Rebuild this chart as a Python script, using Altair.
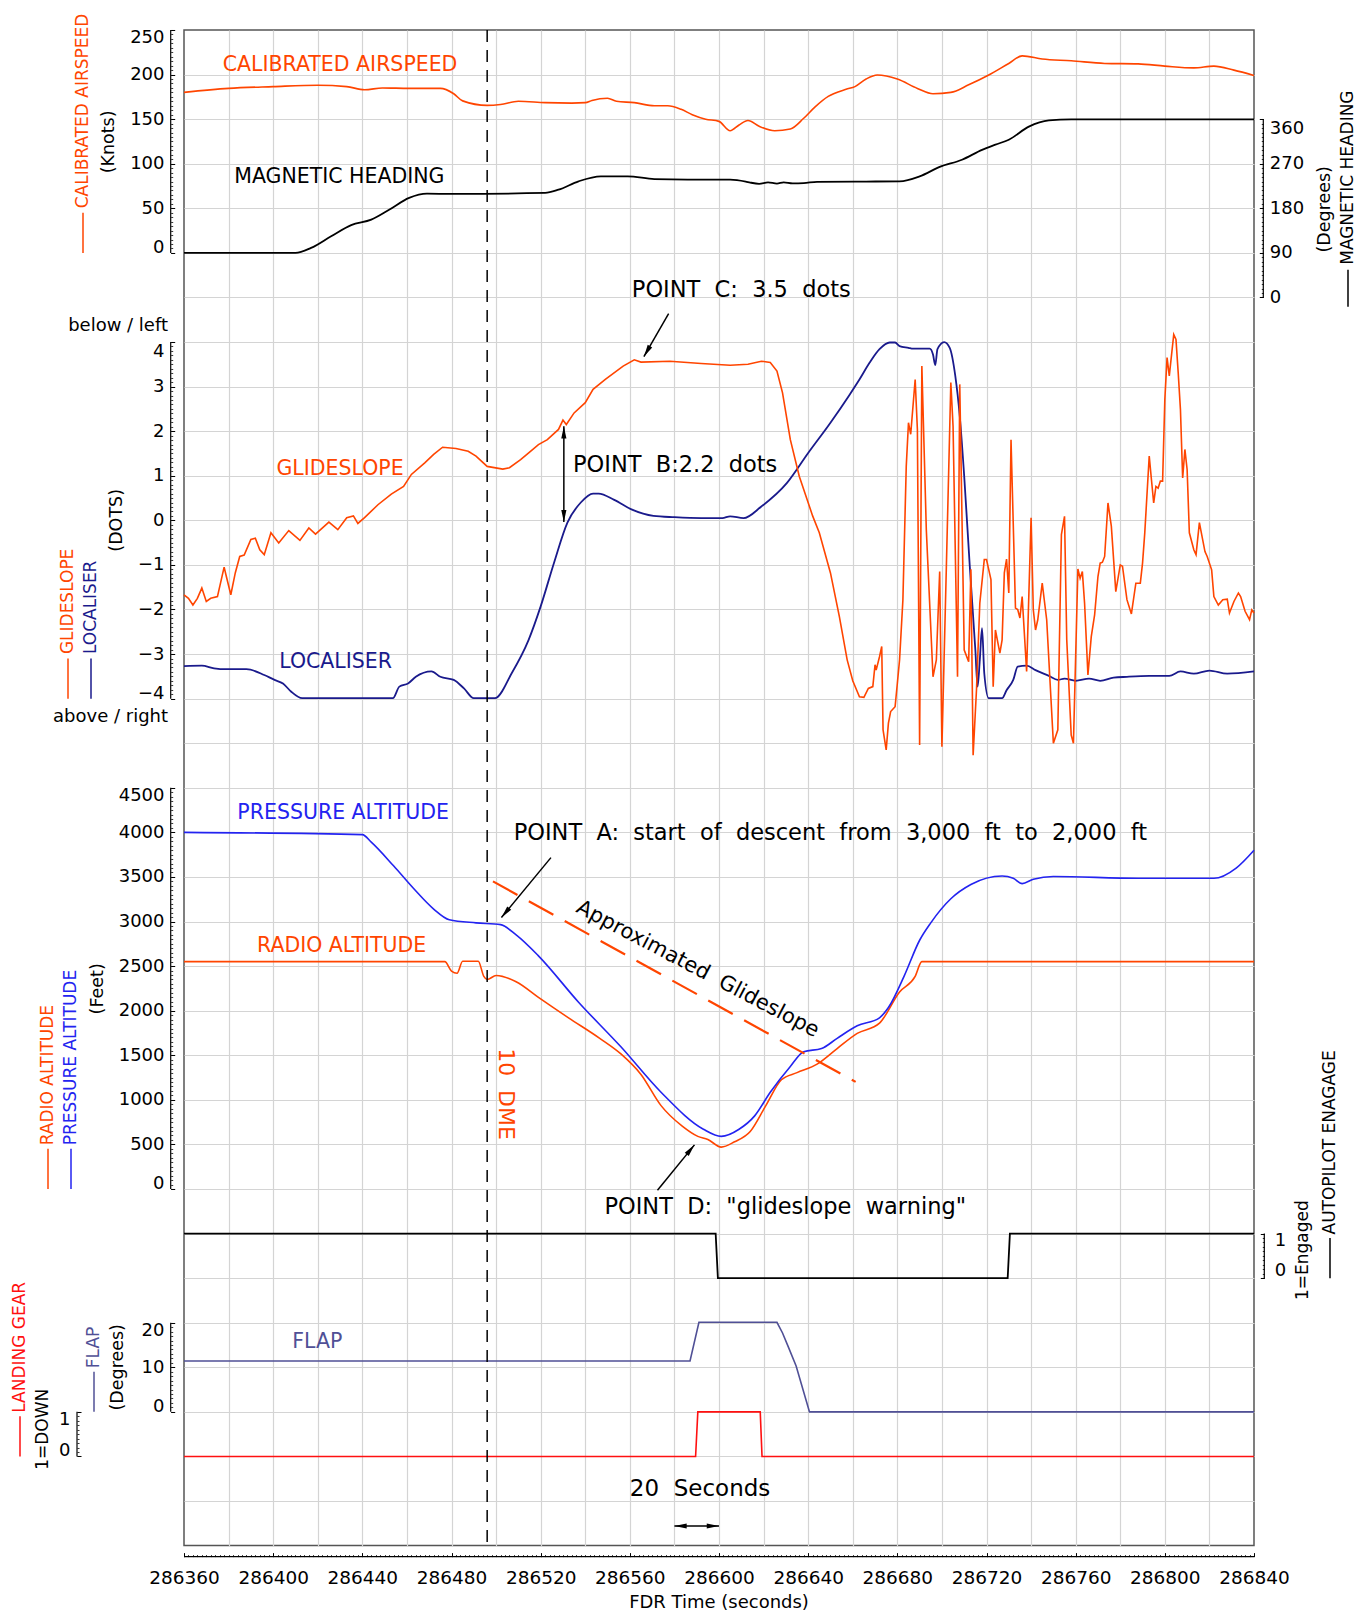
import altair as alt
import pandas as pd

W = 1070
H = 1515.6
XDOM = [286360, 286840]
FONT = "DejaVu Sans"

ORANGE = "#FF4500"
NAVY = "#1A1A8C"
BLUE = "#2323F0"
SLATE = "#505096"
RED = "#FF1010"
BLACK = "#000000"

# ---------------- data ----------------
as_t = [286360, 286380, 286400, 286420, 286433, 286441, 286449, 286461, 286475, 286481, 286485, 286496,
        286502, 286510, 286522, 286534, 286540, 286543, 286550, 286554, 286562, 286571, 286577, 286583,
        286588, 286594, 286600, 286605, 286609, 286613, 286618, 286625, 286632, 286638, 286643, 286649,
        286657, 286661, 286666, 286671, 286680, 286689, 286696, 286704, 286712, 286721, 286730, 286736,
        286745, 286758, 286773, 286788, 286800, 286813, 286822, 286831, 286840]
as_v = [180, 184.5, 186.5, 188, 186.5, 183, 185, 184.5, 184.5, 178.5, 170.5, 165.5,
        166.5, 170, 168.5, 168, 168.5, 171, 173.5, 170, 168.5, 165, 165, 161,
        155, 150, 147.5, 137, 143.5, 148.5, 142, 137, 139, 151, 163.5, 175.5,
        183.5, 186.5, 195, 199.5, 195, 184.5, 178.5, 180, 188.5, 199.5, 212.5, 221,
        217.5, 215.5, 212.5, 212, 209.5, 207.5, 209.5, 205, 199]

hd_t = [286360, 286410, 286417, 286426, 286435, 286444, 286452, 286461, 286469, 286482, 286522, 286528,
        286537, 286547, 286559, 286571, 286586, 286605, 286612, 286614, 286618, 286622, 286626, 286629,
        286633, 286638, 286644, 286666, 286681, 286690, 286699, 286709, 286718, 286724, 286730, 286739,
        286748, 286758, 286840]
hd_v = [90, 90, 100, 123.5, 146, 157, 177, 201, 209.5, 209, 211, 217.5,
        234.5, 244.5, 244.5, 239, 238, 238, 234, 232, 229.5, 232.5, 230, 232.5,
        230.5, 231, 233.5, 234, 234.5, 244.5, 263.5, 278, 298, 308.5, 318.5, 345,
        357.5, 359.5, 359.5]

gs_t = [286360, 286362, 286364, 286366, 286368, 286370, 286372, 286375, 286378, 286379, 286381, 286383,
        286385, 286387, 286390, 286392, 286394, 286396, 286399, 286402.5, 286407, 286412, 286416, 286419,
        286425, 286429, 286433, 286436, 286438, 286441, 286447, 286453, 286458.5, 286462, 286468, 286472,
        286476, 286482, 286487.5, 286491, 286496, 286503, 286506, 286511, 286514.5, 286519, 286523, 286528,
        286530, 286531.5, 286535, 286540, 286543.5, 286549, 286557, 286562, 286565, 286578, 286592, 286605,
        286613, 286619, 286623, 286626, 286628.5, 286632, 286636, 286642, 286645, 286650, 286654, 286657.5,
        286660, 286663, 286665, 286667, 286669, 286670, 286670.5, 286672, 286673, 286673.6, 286675, 286676,
        286677, 286679, 286680, 286681, 286682.5, 286684, 286685, 286686, 286688, 286689, 286690, 286691,
        286693, 286696, 286697.5, 286699, 286700, 286702, 286704, 286705, 286707, 286708, 286710, 286712,
        286713, 286714, 286715.5, 286717, 286719, 286720, 286722, 286723, 286724, 286726, 286727, 286728,
        286729, 286730, 286731, 286733, 286734, 286735, 286736, 286738, 286740, 286741, 286742, 286743,
        286745, 286747, 286750, 286752, 286753.6, 286755, 286756, 286758, 286759, 286761, 286762, 286763,
        286764, 286765.5, 286767, 286768.5, 286770, 286771, 286772, 286773, 286774.5, 286776, 286778, 286780,
        286781, 286783, 286785, 286787, 286789, 286790, 286791, 286793, 286794, 286795, 286796, 286797,
        286798, 286799, 286800, 286801, 286802, 286804, 286805, 286806, 286807, 286808, 286809, 286810,
        286811, 286813, 286814, 286815.5, 286818, 286819, 286821, 286822, 286824, 286826, 286828, 286829,
        286831, 286833, 286834, 286836, 286838, 286839, 286840]
gs_v = [-1.67, -1.75, -1.9, -1.75, -1.52, -1.82, -1.75, -1.71, -1.05, -1.26, -1.67, -1.18,
        -0.81, -0.78, -0.43, -0.4, -0.66, -0.77, -0.28, -0.51, -0.23, -0.45, -0.17, -0.31,
        -0.04, -0.21, 0.06, 0.1, -0.07, 0.06, 0.35, 0.59, 0.76, 1.03, 1.29, 1.48,
        1.64, 1.61, 1.55, 1.44, 1.21, 1.15, 1.18, 1.36, 1.51, 1.7, 1.81, 2.04,
        2.25, 2.15, 2.41, 2.64, 2.94, 3.16, 3.46, 3.6, 3.55, 3.57, 3.52, 3.48,
        3.5, 3.57, 3.54, 3.35, 2.86, 1.81, 0.99, 0.1, -0.28, -1.18, -2.16, -3.13,
        -3.6, -3.96, -3.97, -3.77, -3.73, -3.24, -3.36, -3.06, -2.83, -4.7, -5.15, -4.55,
        -4.29, -4.18, -3.66, -3.13, -1.78, 1.21, 2.19, 1.93, 3.16, 2.04, -5.04, 3.46,
        -0.21, -3.51, -3.13, -1.15, -5.08, -1.03, 3.09, 2.11, -3.51, 3.05, -2.91, -3.17,
        -1.1, -5.27, -3.81, -1.86, -0.88, -0.88, -1.33, -3.73, -2.46, -2.98, -2.68, -1.18,
        -0.87, -1.63, 1.81, -1.97, -2.0, -2.19, -1.71, -3.39, 0.06, -2.01, -2.46, -2.23,
        -1.41, -2.23, -5.0, -4.7, -0.32, 0.09, -2.68, -4.82, -5.0, -1.09, -1.3, -1.15,
        -1.86, -3.47, -2.61, -2.12, -1.26, -0.96, -0.94, -0.81, 0.39, -0.13, -1.6, -1.0,
        -1.03, -1.78, -2.1, -1.41, -1.41, -0.96, -0.28, 1.44, 0.91, 0.39, 0.76, 0.72,
        0.88, 0.88, 2.71, 3.65, 3.24, 4.17, 4.06, 3.31, 2.49, 0.95, 1.59, 1.14,
        -0.28, -0.66, -0.77, -0.05, -0.7, -0.81, -1.11, -1.71, -1.9, -1.78, -1.77, -2.08,
        -1.82, -1.63, -1.71, -2.04, -2.23, -2.01, -2.08]

loc_t = [286360, 286368, 286373.5, 286379, 286388, 286396, 286400.6, 286404.4, 286408, 286413, 286453.7,
         286456.6, 286460.5, 286464, 286471, 286475, 286481, 286485.6, 286490, 286499.5, 286507, 286514.6,
         286520, 286526, 286532, 286538, 286543.5, 286546, 286553, 286561, 286570.6, 286580, 286592,
         286601.5, 286605, 286611, 286619, 286630.5, 286640, 286650, 286658.6, 286663, 286667.6, 286672,
         286676.6, 286679, 286681, 286685, 286687, 286694.5, 286696, 286697, 286698, 286701, 286703.5,
         286706, 286708, 286710, 286712.5, 286715, 286716, 286717, 286718, 286719, 286721, 286727,
         286729, 286732, 286734, 286738, 286742, 286748, 286752, 286755, 286760, 286766, 286771,
         286777, 286783, 286793, 286802, 286807, 286813, 286820, 286828, 286840]
loc_v = [-3.27, -3.26, -3.32, -3.34, -3.34, -3.47, -3.58, -3.66, -3.84, -3.99, -3.99,
         -3.73, -3.66, -3.51, -3.39, -3.51, -3.58, -3.77, -3.99, -3.99, -3.43, -2.68,
         -1.93, -0.95, -0.05, 0.4, 0.6, 0.6, 0.46, 0.24, 0.1, 0.07, 0.05,
         0.05, 0.09, 0.05, 0.31, 0.84, 1.51, 2.19, 2.82, 3.16, 3.54, 3.84,
         3.99, 3.99, 3.91, 3.87, 3.85, 3.85, 3.72, 3.48, 3.84, 4.0, 3.87,
         3.24, 2.34, 0.99, -1.03, -2.91, -3.73, -3.13, -2.42, -3.43, -3.99, -3.99,
         -3.81, -3.58, -3.28, -3.26, -3.36, -3.49, -3.58, -3.55, -3.6, -3.55, -3.6,
         -3.53, -3.51, -3.49, -3.49, -3.39, -3.44, -3.37, -3.44, -3.39]

pa_t = [286360, 286440, 286444, 286454, 286463, 286472, 286479, 286491, 286502, 286509, 286519, 286537,
        286556, 286574, 286593, 286601, 286609, 286616, 286623, 286632, 286638, 286646, 286653, 286662,
        286672, 286676, 286683, 286690, 286695, 286704, 286713, 286727, 286732, 286736, 286741, 286750,
        286788, 286822, 286832, 286840]
pa_v = [4000, 3975, 3890, 3625, 3370, 3140, 3020, 2985, 2965, 2850, 2615, 2095,
        1595, 1085, 670, 590, 670, 820, 1085, 1375, 1540, 1575, 1690, 1830,
        1920, 2035, 2385, 2790, 2985, 3255, 3415, 3510, 3485, 3425, 3475, 3505,
        3485, 3485, 3600, 3800]

ra_t = [286360, 286477, 286480, 286482.5, 286485, 286492, 286494.5, 286496, 286500, 286509, 286519,
        286532.5, 286546.5, 286556, 286565, 286574, 286583.5, 286590.5, 286595, 286601, 286607, 286614,
        286621, 286628, 286635, 286644, 286653, 286662, 286672, 286681, 286688, 286691, 286840]
ra_v = [2550, 2550, 2445, 2420, 2555, 2555, 2385, 2350, 2395, 2325, 2150,
        1920, 1690, 1515, 1285, 935, 705, 590, 555, 470, 530, 645,
        935, 1225, 1305, 1400, 1575, 1745, 1860, 2210, 2385, 2550, 2550]

ap_t = [286360, 286598.5, 286599.5, 286729.5, 286730.5, 286840]
ap_v = [1, 1, 0, 0, 1, 1]

fl_t = [286360, 286587, 286591, 286626, 286628.5, 286631, 286634.6, 286640.6, 286840]
fl_v = [11.4, 11.4, 20.1, 20.1, 17.7, 14.7, 10.3, 0, 0]

lg_t = [286360, 286589.5, 286590.5, 286618.5, 286619.3, 286840]
lg_v = [0, 0, 1, 1, 0, 0]

approx_gs_t = [286498.6, 286661.3]
approx_gs_v = [3450, 1201]
dme_t = 286496

x_labels = list(range(286360, 286841, 40))
x_grid = list(range(286380, 286821, 20))
x_minor = list(range(286360, 286841, 2))

# panel domains (each panel's scale spans the whole plot height)
D_AS = [-1450, 250]
D_HD = [-2520, 540]
D_DOT = [-23, 11]
D_ALT = [-4000, 13000]
D_AP = [-6, 28]
D_FL = [-30, 310]
D_LG = [-2, 32]
D_GRID = [0, 34]


def xs():
    return alt.Scale(domain=XDOM, nice=False, zero=False)


def ys(d):
    return alt.Scale(domain=d, nice=False, zero=False)


def series(t, v, dom, color, width=1.6, interp="linear"):
    df = pd.DataFrame({"t": t, "v": v})
    return alt.Chart(df).mark_line(color=color, strokeWidth=width, interpolate=interp).encode(
        x=alt.X("t:Q", scale=xs(), axis=None),
        y=alt.Y("v:Q", scale=ys(dom), axis=None),
    )


def txt(label, dom, v, t=None, px=None, color=BLACK, size=20.5, angle=0, align="center", baseline="middle"):
    d = {"v": [v], "label": [label]}
    enc = {"y": alt.Y("v:Q", scale=ys(dom), axis=None), "text": alt.Text("label:N")}
    if t is not None:
        d["t"] = [t]
        enc["x"] = alt.X("t:Q", scale=xs(), axis=None)
    else:
        enc["x"] = alt.value(px)
    mk = dict(font=FONT, fontSize=size, color=color, align=align, baseline=baseline)
    if angle:
        mk["angle"] = angle
    return alt.Chart(pd.DataFrame(d)).mark_text(**mk).encode(**enc)


def seg(dom, t0, v0, t1, v1, color=BLACK, width=1.5, dash=None):
    df = pd.DataFrame({"t0": [t0], "t1": [t1], "v0": [v0], "v1": [v1]})
    mk = dict(color=color, strokeWidth=width)
    if dash:
        mk["strokeDash"] = dash
    return alt.Chart(df).mark_rule(**mk).encode(
        x=alt.X("t0:Q", scale=xs(), axis=None), x2="t1:Q",
        y=alt.Y("v0:Q", scale=ys(dom), axis=None), y2="v1:Q",
    )


def head(dom, t, v, angle):
    df = pd.DataFrame({"t": [t], "v": [v]})
    return alt.Chart(df).mark_point(shape="M0,0L0.42,2L-0.42,2Z", filled=True, size=150,
                                    angle=angle, color=BLACK, opacity=1).encode(
        x=alt.X("t:Q", scale=xs(), axis=None),
        y=alt.Y("v:Q", scale=ys(dom), axis=None),
    )


def vline(dom, v0, v1, px, color=BLACK, width=1.2):
    df = pd.DataFrame({"a": [v0], "b": [v1]})
    return alt.Chart(df).mark_rule(color=color, strokeWidth=width).encode(
        x=alt.value(px), y=alt.Y("a:Q", scale=ys(dom), axis=None), y2="b:Q")


def yaxis(dom, values, orient, line_pos, pad, top=None, bottom=None, top_off=8, bot_off=-5.5):
    """major axis (labels + long ticks); ticks end on the drawn axis line."""
    conds = []
    if top is not None:
        conds.append({"test": f"datum.value == {top}", "value": top_off})
    if bottom is not None:
        conds.append({"test": f"datum.value == {bottom}", "value": bot_off})
    major = dict(values=values, orient=orient, offset=line_pos - 4, tickSize=4, domain=False, grid=False,
                 title=None, format="d", labelPadding=pad, labelFont=FONT, labelFontSize=18,
                 labelColor=BLACK, tickColor=BLACK, tickWidth=1, labelOverlap=False)
    if conds:
        major["labelOffset"] = {"condition": conds, "value": 0}
    df = pd.DataFrame({"v": [dom[0]]})
    return [alt.Chart(df).mark_rule(opacity=0).encode(
        y=alt.Y("v:Q", scale=ys(dom), axis=alt.Axis(**major)))]


def yminor(dom, values, orient, line_pos):
    minor = dict(values=values, orient=orient, offset=line_pos - 2, tickSize=2, domain=False, grid=False,
                 title=None, labels=False, tickColor=BLACK, tickWidth=0.8)
    df = pd.DataFrame({"v": [dom[0]]})
    return alt.Chart(df).mark_rule(opacity=0).encode(
        y=alt.Y("v:Q", scale=ys(dom), axis=alt.Axis(**minor)))


def sp2(s):
    return s.replace(" ", "\u00a0\u00a0")


L = []

# grid
L.append(alt.Chart(pd.DataFrame({"t": [XDOM[0]]})).mark_rule(opacity=0).encode(
    x=alt.X("t:Q", scale=xs(), axis=alt.Axis(values=x_grid, orient="bottom", grid=True, gridColor="#d4d4d4",
                                             gridWidth=1.2, labels=False, ticks=False, domain=False, title=None))))
L.append(alt.Chart(pd.DataFrame({"v": [0]})).mark_rule(opacity=0).encode(
    y=alt.Y("v:Q", scale=ys(D_GRID), axis=alt.Axis(values=list(range(1, 34)), orient="left", grid=True,
                                                   gridColor="#d4d4d4", gridWidth=1.2, labels=False, ticks=False,
                                                   domain=False, title=None))))

# x axis
L.append(alt.Chart(pd.DataFrame({"t": [XDOM[0]]})).mark_rule(opacity=0).encode(
    x=alt.X("t:Q", scale=xs(), axis=alt.Axis(values=x_labels, orient="bottom", offset=7, tickSize=4,
                                             labelPadding=12, domain=False, grid=False, title=None, format="d",
                                             labelFlush=False, labelOverlap=False, labelFont=FONT,
                                             labelFontSize=18.5, labelColor=BLACK, tickColor=BLACK))))
L.append(alt.Chart(pd.DataFrame({"t": [XDOM[0]]})).mark_rule(opacity=0).encode(
    x=alt.X("t:Q", scale=xs(), axis=alt.Axis(values=x_minor, orient="bottom", offset=9, tickSize=2,
                                             labels=False, domain=False, grid=False, title=None,
                                             tickColor=BLACK, tickWidth=0.8))))
L.append(alt.Chart(pd.DataFrame({"a": [0]})).mark_rule(color=BLACK, strokeWidth=1.2).encode(
    x=alt.value(0), x2=alt.value(W), y=alt.value(H + 11)))
L.append(alt.Chart(pd.DataFrame({"label": ["FDR Time (seconds)"]})).mark_text(
    font=FONT, fontSize=18, color=BLACK).encode(x=alt.value(W / 2), y=alt.value(H + 57), text="label:N"))

# ---- series ----
L.append(series(as_t, as_v, D_AS, ORANGE, 1.6, "monotone"))
L.append(series(hd_t, hd_v, D_HD, BLACK, 1.8, "monotone"))
L.append(series(loc_t, loc_v, D_DOT, NAVY, 1.8, "monotone"))
L.append(series(gs_t, gs_v, D_DOT, ORANGE, 1.6))
L.append(series(ra_t, ra_v, D_ALT, ORANGE, 1.6, "monotone"))
L.append(series(pa_t, pa_v, D_ALT, BLUE, 1.6, "monotone"))
L.append(series(ap_t, ap_v, D_AP, BLACK, 1.8))
L.append(series(fl_t, fl_v, D_FL, SLATE, 1.6))
L.append(series(lg_t, lg_v, D_LG, RED, 1.6))

# dashed markers
L.append(alt.Chart(pd.DataFrame({"t": [dme_t]})).mark_rule(color=BLACK, strokeWidth=1.5, strokeDash=[12, 8]).encode(
    x=alt.X("t:Q", scale=xs(), axis=None), y=alt.value(0), y2=alt.value(H)))
L.append(seg(D_ALT, approx_gs_t[0], approx_gs_v[0], approx_gs_t[1], approx_gs_v[1], ORANGE, 2.2, [28, 13]))

# ---- axes ----
LEFT = -13.3
L += yaxis(D_AS, [0, 50, 100, 150, 200, 250], "left", 13.3, 6.7, top=250, bottom=0)
L.append(yminor(D_AS, list(range(0, 251, 5)), "left", 13.3))
L.append(vline(D_AS, 0, 250, LEFT))

L += yaxis(D_HD, [0, 90, 180, 270, 360], "right", 9.3, 6, top=360, top_off=9)
L.append(yminor(D_HD, list(range(0, 361, 9)), "right", 9.3))
L.append(vline(D_HD, 0, 360, W + 9.3))

L += yaxis(D_DOT, [-4, -3, -2, -1, 0, 1, 2, 3, 4], "left", 13.3, 6.7, top=4, bottom=-4, top_off=9)
L.append(yminor(D_DOT, [i / 10 for i in range(-40, 41)], "left", 13.3))
L.append(vline(D_DOT, -4, 4, LEFT))

L += yaxis(D_ALT, list(range(0, 4501, 500)), "left", 13.3, 6.7, top=4500, bottom=0)
L.append(yminor(D_ALT, list(range(0, 4501, 50)), "left", 13.3))
L.append(vline(D_ALT, 0, 4500, LEFT))

L += yaxis(D_AP, [0, 1], "right", 10.3, 10, top=1, bottom=0, top_off=6.5, bot_off=-8)
L.append(yminor(D_AP, [i / 10 for i in range(0, 11)], "right", 10.3))
L.append(vline(D_AP, 0, 1, W + 10.3))

L += yaxis(D_FL, [0, 10, 20], "left", 13.3, 6.7, top=20, bottom=0)
L.append(yminor(D_FL, list(range(0, 21)), "left", 13.3))
L.append(vline(D_FL, 0, 20, LEFT))

L += yaxis(D_LG, [0, 1], "left", 107, 7, top=1, bottom=0)
L.append(yminor(D_LG, [i / 10 for i in range(0, 11)], "left", 107))
L.append(vline(D_LG, 0, 1, -107))

# ---- side titles ----
SIDE = 17
L.append(vline(D_AS, 0, 45, -101, ORANGE, 1.5))
L.append(txt("CALIBRATED AIRSPEED", D_AS, 50, px=-101, color=ORANGE, size=SIDE, angle=270, align="left"))
L.append(txt("(Knots)", D_AS, 124.5, px=-75, size=SIDE + 0.5, angle=270))

L.append(vline(D_HD, -19, 56, W + 94, BLACK, 1.5))
L.append(txt("MAGNETIC HEADING", D_HD, 66, px=W + 94, size=SIDE, angle=270, align="left"))
L.append(txt("(Degrees)", D_HD, 178, px=W + 71, size=SIDE + 0.5, angle=270))

L.append(vline(D_DOT, -4, -3.1, -116, ORANGE, 1.5))
L.append(txt("GLIDESLOPE", D_DOT, -3.0, px=-116, color=ORANGE, size=SIDE, angle=270, align="left"))
L.append(vline(D_DOT, -4, -3.1, -93, NAVY, 1.5))
L.append(txt("LOCALISER", D_DOT, -3.0, px=-93, color=NAVY, size=SIDE, angle=270, align="left"))
L.append(txt("(DOTS)", D_DOT, 0, px=-67, size=SIDE + 0.5, angle=270))
L.append(txt("below / left", D_DOT, 4.36, px=-16, size=18, align="right"))
L.append(txt("above / right", D_DOT, -4.41, px=-16, size=18, align="right"))

L.append(vline(D_ALT, 0, 450, -136, ORANGE, 1.5))
L.append(txt("RADIO ALTITUDE", D_ALT, 490, px=-136, color=ORANGE, size=SIDE, angle=270, align="left"))
L.append(vline(D_ALT, 0, 450, -113, BLUE, 1.5))
L.append(txt("PRESSURE ALTITUDE", D_ALT, 490, px=-113, color=BLUE, size=SIDE, angle=270, align="left"))
L.append(txt("(Feet)", D_ALT, 2245, px=-86, size=SIDE + 0.5, angle=270))

L.append(vline(D_AP, 0, 0.9, W + 76, BLACK, 1.5))
L.append(txt("AUTOPILOT ENAGAGE", D_AP, 0.98, px=W + 76, size=SIDE, angle=270, align="left"))
L.append(txt("1=Engaged", D_AP, -0.49, px=W + 49, size=SIDE, angle=270, align="left"))

L.append(vline(D_FL, 0, 9, -90, SLATE, 1.5))
L.append(txt("FLAP", D_FL, 9.8, px=-90, color=SLATE, size=SIDE, angle=270, align="left"))
L.append(txt("(Degrees)", D_FL, 10, px=-66, size=SIDE + 0.5, angle=270))

L.append(vline(D_LG, 0, 0.9, -164, RED, 1.5))
L.append(txt("LANDING GEAR", D_LG, 0.98, px=-164, color=RED, size=SIDE, angle=270, align="left"))
L.append(txt("1=DOWN", D_LG, -0.3, px=-141, size=SIDE, angle=270, align="left"))

# ---- in-plot labels ----
L.append(txt("CALIBRATED AIRSPEED", D_AS, 211, t=286430, color=ORANGE))
L.append(txt("MAGNETIC HEADING", D_HD, 243, t=286429.7, color=BLACK))
L.append(txt("GLIDESLOPE", D_DOT, 1.145, t=286430, color=ORANGE))
L.append(txt("LOCALISER", D_DOT, -3.17, t=286428, color=NAVY))
L.append(txt("PRESSURE ALTITUDE", D_ALT, 4215, t=286431.4, color=BLUE))
L.append(txt("RADIO ALTITUDE", D_ALT, 2720, t=286430.7, color=ORANGE))
L.append(txt("FLAP", D_FL, 15.6, t=286419.8, color=SLATE))

# ---- annotations ----
ANN = 22.5
L.append(txt(sp2("POINT C: 3.5 dots"), D_DOT, 5.16, t=286610, size=ANN))
L.append(seg(D_DOT, 286577.4, 4.64, 286566.3, 3.67))
L.append(head(D_DOT, 286566.3, 3.67, 209.8))

L.append(txt(sp2("POINT B:2.2 dots"), D_DOT, 1.25, t=286534.5, size=ANN, align="left"))
L.append(seg(D_DOT, 286530.4, 2.11, 286530.4, -0.04))
L.append(head(D_DOT, 286530.4, 2.11, 0))
L.append(head(D_DOT, 286530.4, -0.04, 180))

L.append(txt(sp2("POINT A: start of descent from 3,000 ft to 2,000 ft"), D_ALT, 3995, t=286507.9, size=ANN,
             align="left"))
L.append(seg(D_ALT, 286524.6, 3717, 286502.4, 3045))
L.append(head(D_ALT, 286502.4, 3045, 219.6))

L.append(txt(sp2('POINT D: "glideslope warning"'), D_ALT, -201, t=286548.6, size=ANN, align="left"))
L.append(seg(D_ALT, 286572.4, -15, 286589, 495))
L.append(head(D_ALT, 286589, 495, 39.1))

L.append(txt(sp2("Approximated Glideslope"), D_ALT, 2465, t=286590.4, size=21, angle=27.7))
L.append(txt(sp2("10 DME"), D_ALT, 1065, t=286504.6, size=22, color=ORANGE, angle=90))

L.append(txt(sp2("20 Seconds"), D_LG, -0.73, t=286591.5, size=23))
L.append(seg(D_LG, 286580, -1.56, 286600, -1.56))
L.append(head(D_LG, 286580, -1.56, 270))
L.append(head(D_LG, 286600, -1.56, 90))

chart = alt.layer(*L).resolve_scale(x="independent", y="independent").properties(
    width=W, height=H,
    autosize=alt.AutoSizeParams(type="none"),
    padding={"left": 176, "top": 22, "right": 102, "bottom": 66},
).configure_view(stroke="#555555", strokeWidth=1.5)

chart.save("out.html", embed_options={"renderer": "svg", "actions": False})
